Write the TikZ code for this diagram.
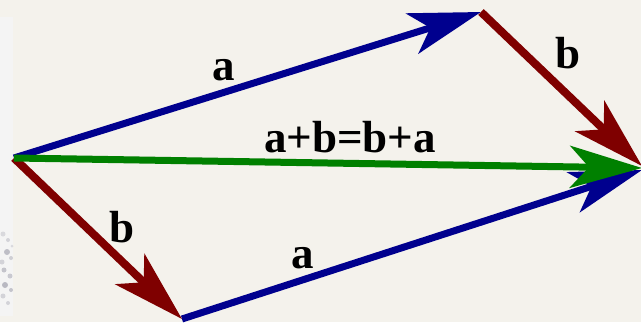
\documentclass[tikz,border=0pt]{standalone}
\usepackage{fontspec}
\setmainfont{Liberation Serif}
\usetikzlibrary{arrows.meta}
\definecolor{bg}{HTML}{F4F2EC}
\definecolor{strip}{HTML}{F4F4F4}
\definecolor{speck}{HTML}{8A8A9A}
\definecolor{vblue}{HTML}{00008E}
\definecolor{vred}{HTML}{7F0000}
\definecolor{vgreen}{HTML}{008000}
\tikzset{
  vec/.style={line width=7pt, -{Stealth[length=72pt, width=42pt, inset=19pt]}},
  lbl/.style={font=\fontsize{45}{45}\selectfont\bfseries, anchor=base, inner sep=0pt},
}
\begin{document}
\begin{tikzpicture}[x=1pt, y=-1pt]
\useasboundingbox (0,0) rectangle (641,322);
\fill[bg] (0,0) rectangle (641,322);
\fill[strip] (0,17) rectangle (13,316);
\foreach \px/\py/\r/\o in {3/234/2.5/0.25, 8/240/2/0.3, 7/252/3/0.5, 11/258/2/0.35, 2/262/2.5/0.3, 4/270/2.5/0.45, 10/276/2.5/0.4, 5/285/3/0.55, 11/290/2/0.45, 3/296/2.5/0.3, 8/303/2/0.3, 12/246/1.5/0.25}
  \fill[speck, opacity=\o] (\px,\py) circle (\r);
\coordinate (O) at (14,158);
\coordinate (A) at (481,12);
\coordinate (B) at (182,319);
\coordinate (Cr) at (642,166);
\coordinate (Cg) at (642,168);
\coordinate (Cb) at (642,170);
\draw[vec, vblue] (O) -- (A);
\draw[vec, vred, line width=8pt] (A) -- (Cr);
\draw[vec, vblue] (B) -- (Cb);
\draw[vec, vred, line width=8pt] (O) -- (B);
\draw[vec, vgreen] (O) -- (Cg);
\node[lbl] (la) at (224,80) {a};
\node[lbl] (lb) at (568,68) {b};
\node[lbl] (ls) at (350,152) {a+b=b+a};
\node[lbl] (lb2) at (122,242) {b};
\node[lbl] (la2) at (303,268) {a};
\end{tikzpicture}
\end{document}
